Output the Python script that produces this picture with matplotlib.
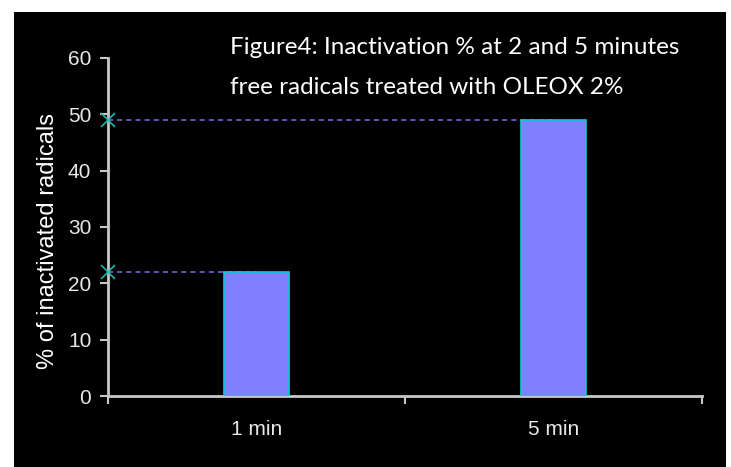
import matplotlib.pyplot as plt
from matplotlib.patches import Rectangle

categories = ["1 min", "5 min"]
values = [22.0, 49.0]
yticks = [0, 10, 20, 30, 40, 50, 60]
title1 = "Figure4: Inactivation % at 2 and 5 minutes"
title2 = "free radicals treated with OLEOX 2%"

W, H = 731, 467
fig = plt.figure(figsize=(W / 100, H / 100), dpi=100, facecolor="white")
# black slide background inside a thin white border
fig.patches.append(Rectangle((14 / W, 0), 712 / W, (H - 12) / H,
                             transform=fig.transFigure, facecolor="black",
                             edgecolor="none", zorder=-10))

ax = fig.add_axes([108 / W, 1 - 396 / H, (702 - 108) / W, (396 - 58) / H])
ax.set_facecolor("none")

x = range(len(categories))
ax.bar(x, values, width=0.22, color="#8080ff", edgecolor="#00d0d0",
       linewidth=1.2, zorder=3)

# dashed guide lines from the y axis to each bar
for i, v in enumerate(values):
    ax.plot([-0.5, i], [v, v], ls=(0, (3, 2.5)), color="#6a6ad8", lw=1.2, zorder=2)
    ax.plot([-0.5], [v], marker="x", color="#20b8a8", ms=10, mew=1.2,
            clip_on=False, zorder=4)

ax.set_xlim(-0.5, 1.5)
ax.set_ylim(0, 60)
ax.set_yticks(yticks)
ax.set_xticks([-0.5, 0.5, 1.5])
ax.set_xticklabels([])
ax.set_xticks(list(x), minor=True)
ax.set_xticklabels(categories, minor=True)

axis_col = "#c8c8c8"
for s in ["top", "right"]:
    ax.spines[s].set_visible(False)
for s in ["left", "bottom"]:
    ax.spines[s].set_color(axis_col)
    ax.spines[s].set_linewidth(2)

ax.tick_params(axis="y", colors=axis_col, length=6, width=1.5,
               labelsize=15, labelcolor="#e8e8e8", pad=6)
ax.tick_params(axis="x", which="major", colors=axis_col, length=6, width=1.5)
ax.tick_params(axis="x", which="minor", length=0, labelsize=15,
               labelcolor="#e8e8e8", pad=17)
for lab in ax.get_yticklabels() + ax.get_xticklabels(minor=True):
    lab.set_family("Liberation Sans")

ax.set_ylabel("% of inactivated radicals", color="white", fontsize=17,
              family="Liberation Sans", va="center")
ax.yaxis.set_label_coords(-0.101, 0.459)

fig.text(230 / W, 1 - 48 / H, title1, color="white", fontsize=17.5,
         family="Lato", va="center", ha="left")
fig.text(230 / W, 1 - 88 / H, title2, color="white", fontsize=17.5,
         family="Lato", va="center", ha="left")

fig.savefig("out.png", dpi=100, facecolor=fig.get_facecolor())
